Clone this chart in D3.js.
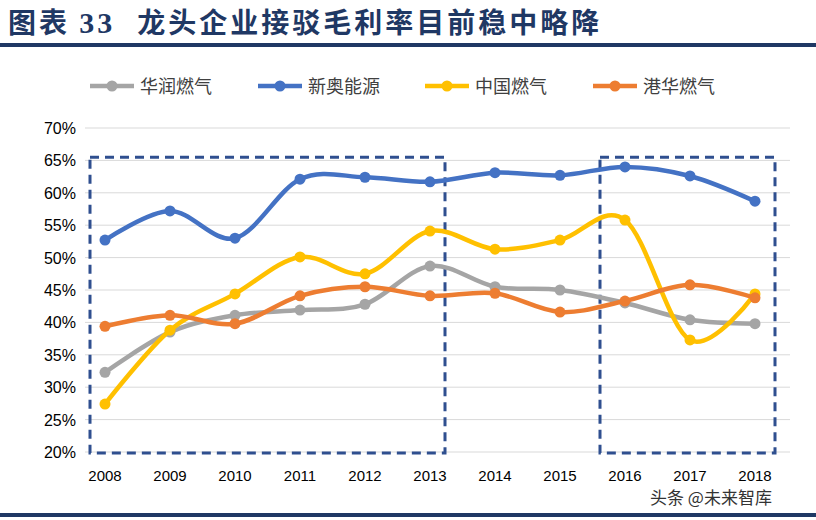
<!DOCTYPE html>
<html><head><meta charset="utf-8">
<script src="https://cdn.jsdelivr.net/npm/d3@7"></script>
<style>body{margin:0;background:#fff;font-family:"Noto Sans CJK SC","Liberation Serif",sans-serif}</style>
</head><body>
<svg id="c" width="816" height="520"></svg>
<script>
// values (%)
var years = [2008,2009,2010,2011,2012,2013,2014,2015,2016,2017,2018];
var huarun = [32.3,38.5,41.1,41.9,42.8,48.7,45.5,45.0,43.0,40.4,39.8];
var xinao = [52.7,57.2,53.0,62.1,62.4,61.7,63.1,62.7,64.0,62.6,58.7];
var zhongguo = [27.4,38.8,44.4,50.1,47.5,54.1,51.3,52.7,55.8,37.3,44.4];
var ganghua = [39.4,41.1,39.8,44.1,45.5,44.1,44.5,41.6,43.3,45.8,43.8];
var yTicks = [20,25,30,35,40,45,50,55,60,65,70];
var seriesNames = ["华润燃气","新奥能源","中国燃气","港华燃气"];
var seriesColors = ["#A5A5A5","#4472C4","#FFC000","#ED7D31"];
var seriesData = [huarun, xinao, zhongguo, ganghua];

var svg = d3.select("#c");
var x = d3.scaleLinear().domain([2008,2018]).range([105,755]);
var y = d3.scaleLinear().domain([20,70]).range([452,128]);

// title + rules
var t = svg.append("text").attr("x",8).attr("y",33).attr("fill","#1F3864")
  .style("font-size","28px").style("font-weight","bold").style("letter-spacing","3px")
  .style("font-family","'Noto Sans CJK SC'");
t.append("tspan").text("图表 ");
t.append("tspan").style("font-family","Liberation Serif").style("font-size","30px").text("33");
t.append("tspan").attr("dx",22).text("龙头企业接驳毛利率目前稳中略降");
svg.append("rect").attr("x",0).attr("y",43).attr("width",816).attr("height",4).attr("fill","#1F3864");
svg.append("rect").attr("x",0).attr("y",513).attr("width",816).attr("height",4).attr("fill","#1F3864");

// grid
svg.selectAll(".g").data(yTicks).enter().append("line")
  .attr("x1",85).attr("x2",790).attr("y1",d=>y(d)).attr("y2",d=>y(d))
  .attr("stroke","#D9D9D9").attr("stroke-width",1);
svg.selectAll(".yl").data(yTicks).enter().append("text")
  .attr("x",76).attr("y",d=>y(d)+6).attr("text-anchor","end")
  .style("font-family","Liberation Sans").style("font-size","16px").attr("fill","#000")
  .text(d=>d+"%");
svg.selectAll(".xl").data(years).enter().append("text")
  .attr("x",d=>x(d)).attr("y",481).attr("text-anchor","middle")
  .style("font-family","Liberation Sans").style("font-size","15px").text(d=>d);

// dashed boxes
function box(x0,x1){
  svg.append("rect").attr("x",x0).attr("y",y(65.5)).attr("width",x1-x0).attr("height",y(20)-y(65.5)+1)
    .attr("fill","none").attr("stroke","#2F4F8F").attr("stroke-width",3).attr("stroke-dasharray","9,6");
}
box(x(2008)-15, x(2013)+15);
box(x(2016)-25, x(2018)+20);

// lines
var line = d3.line().x((d,i)=>x(years[i])).y(d=>y(d)).curve(d3.curveCardinal.tension(0));
seriesData.forEach(function(s,k){
  svg.append("path").attr("d",line(s)).attr("fill","none")
    .attr("stroke",seriesColors[k]).attr("stroke-width",4.5);
  svg.selectAll(".p"+k).data(s).enter().append("circle")
    .attr("cx",(d,i)=>x(years[i])).attr("cy",d=>y(d)).attr("r",5.5).attr("fill",seriesColors[k]);
});

// legend
var lx = [90,258,425,593];
seriesNames.forEach(function(n,k){
  var g = svg.append("g").attr("transform","translate("+lx[k]+",86)");
  g.append("line").attr("x1",0).attr("x2",44).attr("stroke",seriesColors[k]).attr("stroke-width",4.5);
  g.append("circle").attr("cx",22).attr("r",5.5).attr("fill",seriesColors[k]);
  g.append("text").attr("x",50).attr("y",7).style("font-size","18px").attr("fill","#404040").text(n);
});

// watermark
svg.append("text").attr("x",650).attr("y",504).style("font-size","17px").attr("fill","#333")
  .attr("stroke","#fff").attr("stroke-width",3).attr("paint-order","stroke").text("头条 @未来智库");
</script>
</body></html>
